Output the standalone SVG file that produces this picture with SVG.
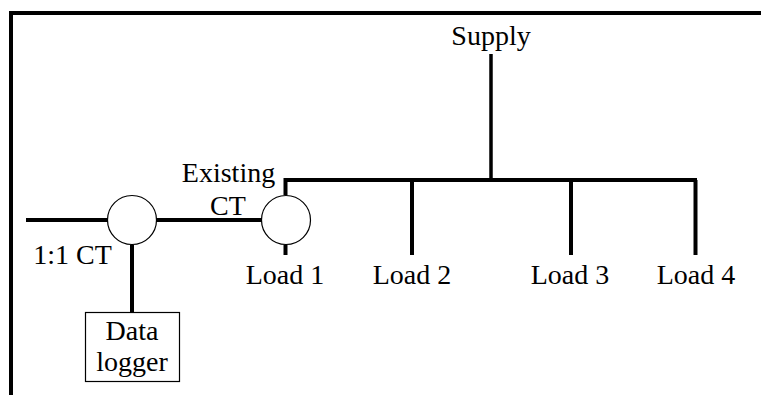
<svg xmlns="http://www.w3.org/2000/svg" width="761" height="395" viewBox="0 0 761 395">
<style>
text{font-family:"Liberation Serif","Times New Roman",serif;font-size:28px;fill:#000;text-anchor:middle}
.w{fill:none;stroke:#000;stroke-width:4}
.c{fill:#fff;stroke:#000;stroke-width:1.200}
</style>
<rect width="761" height="395" fill="#fff"/>
<g id="connectors">
<path class="w" d="M11 395V13H761"/>
<path class="w" style="stroke-width:3.500" d="M491 54V179"/>
<path class="w" d="M285.500 195V180H697"/>
<path class="w" d="M412 180V255"/>
<path class="w" d="M571 180V255"/>
<path class="w" d="M695.500 180V255"/>
<path class="w" d="M26 220H108"/>
<path class="w" d="M156 220H262"/>
<path class="w" d="M132 245V312"/>
<path class="w" d="M285.500 245V255"/>
</g>
<g id="ct1"><circle class="c" cx="132" cy="220" r="24.500"/></g>
<g id="ct2"><circle class="c" cx="286" cy="220" r="24.500"/></g>
<g id="logger"><rect class="c" x="85.500" y="312.500" width="94" height="69"/><text x="132" y="340">Data</text><text x="132" y="371">logger</text></g>
<g id="supply"><text x="491" y="45">Supply</text></g>
<g id="existing"><text x="228.500" y="182">Existing</text><text x="228" y="215">CT</text></g>
<g id="ct-label"><text x="72.500" y="264">1:1 CT</text></g>
<g id="load1"><text x="285" y="284">Load 1</text></g>
<g id="load2"><text x="412" y="284">Load 2</text></g>
<g id="load3"><text x="570" y="284">Load 3</text></g>
<g id="load4"><text x="696" y="284">Load 4</text></g>
</svg>
